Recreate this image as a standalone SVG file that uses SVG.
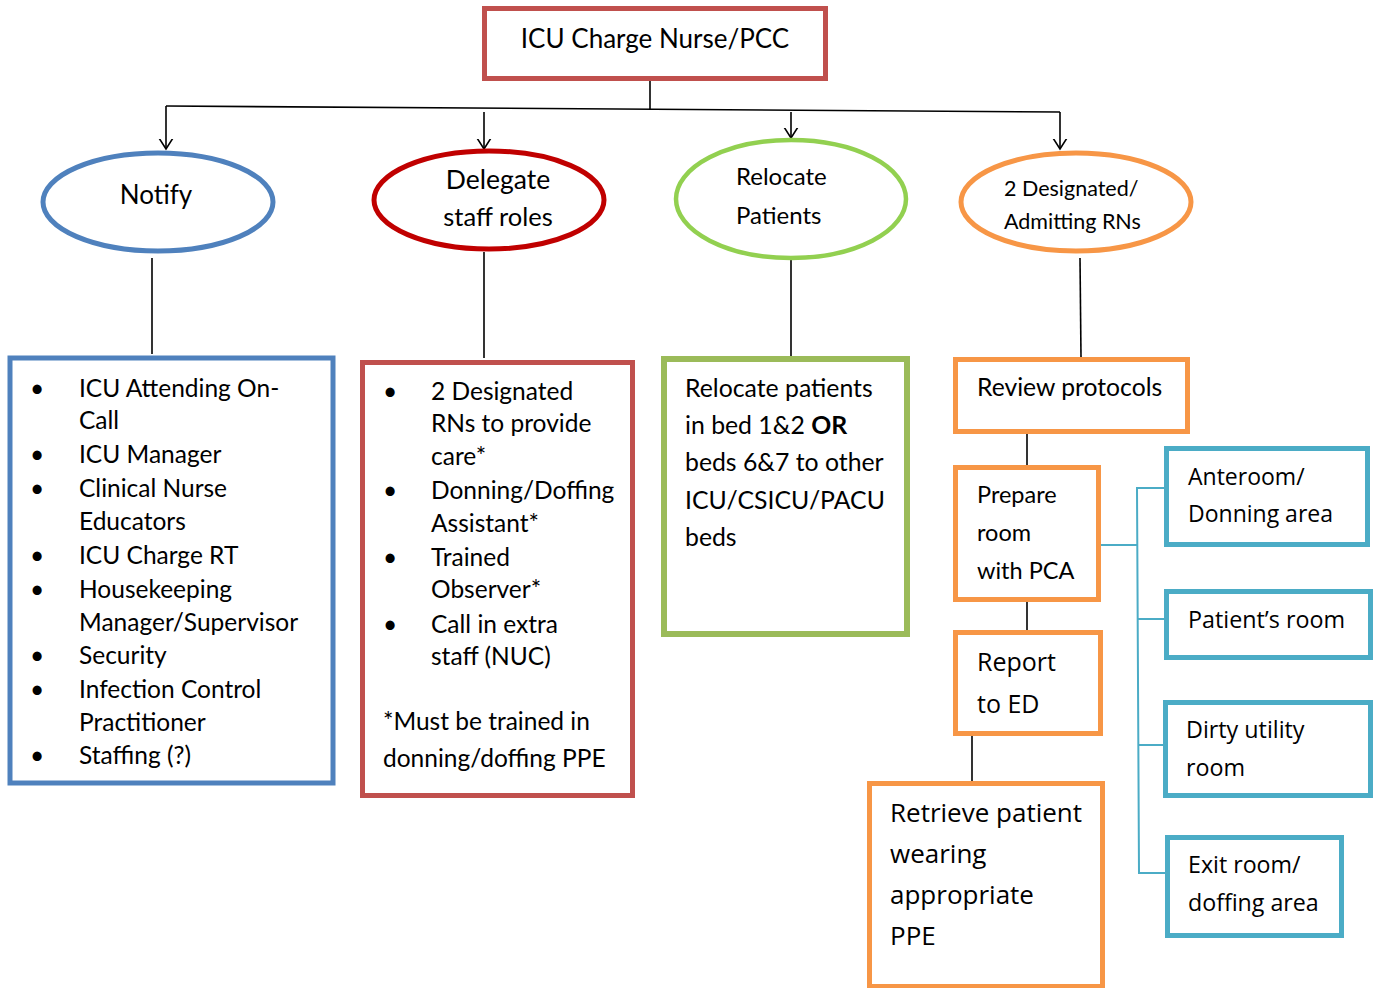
<svg xmlns="http://www.w3.org/2000/svg" width="1374" height="988" viewBox="0 0 1374 988">
<defs>
<marker id="arr" markerWidth="20" markerHeight="20" refX="10" refY="10" orient="auto" markerUnits="userSpaceOnUse">
<path d="M-1,3 L10,10 L-1,17" fill="none" stroke="#000" stroke-width="1.6"/>
</marker>
<style>
.c{font-family:Lato,"Open Sans",sans-serif;fill:#000}
.s{font-family:"Open Sans","Noto Sans",sans-serif;fill:#000}
.k{stroke:#000;stroke-width:1.6;fill:none}
.b{stroke:#4bacc6;stroke-width:2;fill:none}
</style>
</defs>
<rect width="1374" height="988" fill="#fff"/>
<g id="connectors">
<line class="k" x1="650" y1="80" x2="650" y2="110"/>
<line class="k" x1="166" y1="106" x2="1060" y2="112"/>
<line class="k" x1="166" y1="106" x2="166" y2="149" marker-end="url(#arr)"/>
<line class="k" x1="484" y1="112" x2="484" y2="149" marker-end="url(#arr)"/>
<line class="k" x1="791" y1="112" x2="791" y2="138" marker-end="url(#arr)"/>
<line class="k" x1="1060" y1="112" x2="1060" y2="149" marker-end="url(#arr)"/>
<line class="k" x1="152" y1="258" x2="152" y2="354"/>
<line class="k" x1="484" y1="252" x2="484" y2="358"/>
<line class="k" x1="791" y1="260" x2="791" y2="357"/>
<line class="k" x1="1080" y1="258" x2="1081" y2="357"/>
<line class="k" x1="1027" y1="433" x2="1027" y2="466"/>
<line class="k" x1="1027" y1="601" x2="1027" y2="635"/>
<line class="k" x1="972" y1="735" x2="972" y2="782"/>
<polyline class="b" points="1101,545 1137,545"/>
<polyline class="b" points="1164,488 1137,488 1139,873 1165,873"/>
<line class="b" x1="1138" y1="619" x2="1164" y2="619"/>
<line class="b" x1="1138" y1="745" x2="1163" y2="745"/>
</g>
<g id="top">
<rect x="484.5" y="8.5" width="341" height="70" fill="#fff" stroke="#c0504d" stroke-width="5"/>
<text class="c" x="655" y="48" font-size="26" text-anchor="middle">ICU Charge Nurse/PCC</text>
</g>
<g id="notify">
<ellipse cx="158" cy="202" rx="115" ry="49" fill="#fff" stroke="#4f81bd" stroke-width="5"/>
<text class="c" x="156" y="204" font-size="26" text-anchor="middle">Notify</text>
</g>
<g id="delegate">
<ellipse cx="489" cy="200" rx="115" ry="49" fill="#fff" stroke="#c00000" stroke-width="5"/>
<text class="c" x="498" y="189" font-size="26.5" text-anchor="middle">Delegate</text>
<text class="c" x="498" y="226" font-size="25.5" text-anchor="middle">staff roles</text>
</g>
<g id="relocate">
<ellipse cx="791" cy="199" rx="115" ry="59" fill="#fff" stroke="#92d050" stroke-width="4.5"/>
<text class="c" x="736" y="185" font-size="24">Relocate</text>
<text class="c" x="736" y="224" font-size="24">Patients</text>
</g>
<g id="designated">
<ellipse cx="1076" cy="202" rx="115" ry="49" fill="#fff" stroke="#f79646" stroke-width="5"/>
<text class="c" x="1004" y="196" font-size="21.5">2 Designated/</text>
<text class="c" x="1004" y="229" font-size="21.5">Admitting RNs</text>
</g>
<g id="notify-list">
<rect x="10" y="358" width="323" height="425" fill="#fff" stroke="#4f81bd" stroke-width="5"/>
<g class="c" font-size="24.5">
<text x="30" y="397">•</text><text x="79" y="397">ICU Attending On-</text>
<text x="79" y="429">Call</text>
<text x="30" y="463">•</text><text x="79" y="463">ICU Manager</text>
<text x="30" y="497">•</text><text x="79" y="497">Clinical Nurse</text>
<text x="79" y="530">Educators</text>
<text x="30" y="564">•</text><text x="79" y="564">ICU Charge RT</text>
<text x="30" y="598">•</text><text x="79" y="598">Housekeeping</text>
<text x="79" y="631">Manager/Supervisor</text>
<text x="30" y="664">•</text><text x="79" y="664">Security</text>
<text x="30" y="698">•</text><text x="79" y="698">Infection Control</text>
<text x="79" y="731">Practitioner</text>
<text x="30" y="764">•</text><text x="79" y="764">Staffing (?)</text>
</g>
</g>
<g id="delegate-list">
<rect x="362.5" y="362.5" width="270" height="433" fill="#fff" stroke="#c0504d" stroke-width="5"/>
<g class="c" font-size="24.5">
<text x="383" y="400">•</text><text x="431" y="400">2 Designated</text>
<text x="431" y="432">RNs to provide</text>
<text x="431" y="465">care*</text>
<text x="383" y="499">•</text><text x="431" y="499">Donning/Doffing</text>
<text x="431" y="532">Assistant*</text>
<text x="383" y="566">•</text><text x="431" y="566">Trained</text>
<text x="431" y="598">Observer*</text>
<text x="383" y="633">•</text><text x="431" y="633">Call in extra</text>
<text x="431" y="665">staff (NUC)</text>
<text x="383" y="730">*Must be trained in</text>
<text x="383" y="767">donning/doffing PPE</text>
</g>
</g>
<g id="relocate-box">
<rect x="664" y="359" width="243" height="275" fill="#fff" stroke="#9bbb59" stroke-width="6"/>
<g class="c" font-size="24.8">
<text x="685" y="397">Relocate patients</text>
<text x="685" y="434">in bed 1&amp;2 <tspan font-weight="bold">OR</tspan></text>
<text x="685" y="471">beds 6&amp;7 to other</text>
<text x="685" y="509">ICU/CSICU/PACU</text>
<text x="685" y="546">beds</text>
</g>
</g>
<g id="review">
<rect x="955.5" y="359.5" width="232" height="72" fill="#fff" stroke="#f79646" stroke-width="5"/>
<text class="c" x="977" y="396" font-size="24.7">Review protocols</text>
</g>
<g id="prepare">
<rect x="955.5" y="467.5" width="143" height="132" fill="#fff" stroke="#f79646" stroke-width="5"/>
<g class="c" font-size="23.5">
<text x="977" y="503">Prepare</text>
<text x="977" y="541">room</text>
<text x="977" y="579">with PCA</text>
</g>
</g>
<g id="report">
<rect x="955.5" y="632.5" width="145" height="101" fill="#fff" stroke="#f79646" stroke-width="5"/>
<text class="s" x="977" y="671" font-size="25">Report</text>
<text class="s" x="977" y="713" font-size="25">to ED</text>
</g>
<g id="retrieve">
<rect x="869.5" y="783.5" width="233" height="203" fill="#fff" stroke="#f79646" stroke-width="5"/>
<g class="s" font-size="26">
<text x="890" y="822">Retrieve patient</text>
<text x="890" y="863">wearing</text>
<text x="890" y="904">appropriate</text>
<text x="890" y="945">PPE</text>
</g>
</g>
<g id="anteroom">
<rect x="1166.5" y="448.5" width="201" height="96" fill="#fff" stroke="#4bacc6" stroke-width="5"/>
<text class="s" x="1188" y="485" font-size="23">Anteroom/</text>
<text class="s" x="1188" y="522" font-size="23">Donning area</text>
</g>
<g id="patients-room">
<rect x="1166.5" y="591.5" width="204" height="66" fill="#fff" stroke="#4bacc6" stroke-width="5"/>
<text class="s" x="1188" y="628" font-size="23.3">Patient’s room</text>
</g>
<g id="dirty-utility">
<rect x="1165.5" y="702.5" width="205" height="93" fill="#fff" stroke="#4bacc6" stroke-width="5"/>
<text class="s" x="1186" y="738" font-size="23.3">Dirty utility</text>
<text class="s" x="1186" y="776" font-size="23.3">room</text>
</g>
<g id="exit-room">
<rect x="1167.5" y="837.5" width="174" height="98" fill="#fff" stroke="#4bacc6" stroke-width="5"/>
<text class="s" x="1188" y="873" font-size="23.2">Exit room/</text>
<text class="s" x="1188" y="911" font-size="23.2">doffing area</text>
</g>
</svg>
